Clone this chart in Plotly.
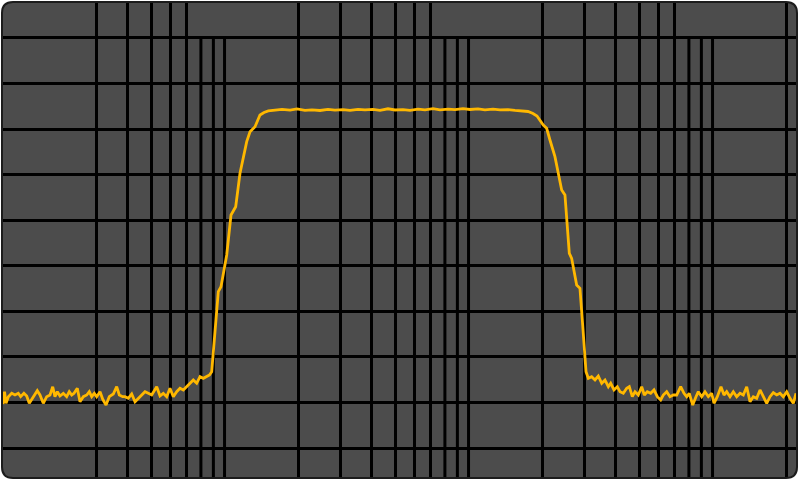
import plotly.graph_objects as go

# Espectro medido (frecuencia en Hz, nivel en dB)
freq_hz = [
    6.18, 6.27, 6.36, 6.50, 6.71, 6.92, 7.14, 7.30, 7.53, 7.73, 7.92, 8.18, 8.54, 8.76, 9.04, 9.33,
    9.63, 9.88, 10.09, 10.32, 10.58, 10.92, 11.27, 11.55, 11.82, 12.08, 12.46, 12.78, 13.19, 13.62,
    13.95, 14.27, 14.63, 14.96, 15.44, 15.84, 16.34, 16.85, 17.50, 18.07, 18.52, 19.12, 19.54, 20.16,
    20.82, 21.48, 22.16, 22.88, 23.60, 24.35, 25.14, 26.36, 27.19, 28.05, 28.97, 29.88, 30.83, 31.83,
    32.84, 33.88, 34.98, 36.09, 37.23, 38.45, 39.66, 40.92, 42.25, 43.38, 44.29,
    45.69, 47.14, 48.35, 49.51, 51.03, 53.14, 55.55, 57.85, 59.12, 61.63, 63.58, 66.65, 69.87, 72.55,
    75.56, 80.48, 85.98, 92.73, 99.06, 106.8, 114.1, 123.1, 132.7, 141.8, 152.9, 163.4, 176.2, 188.2,
    202.9, 216.8, 233.8, 249.8, 269.4, 287.8, 310.3, 331.5, 357.5, 382.0, 411.9, 440.1, 474.6, 507.0,
    546.6, 584.0, 629.8, 672.8, 725.6, 775.1, 828.1, 876.3,
    918.5, 953.9, 1012, 1045, 1078, 1130, 1204, 1242, 1294, 1323, 1387, 1431, 1468, 1515,
    1548, 1598, 1649, 1701, 1757, 1812, 1870, 1912, 1973, 2035, 2088, 2154, 2224, 2279, 2345, 2405,
    2481, 2562, 2626, 2701, 2789, 2877, 2969, 3065, 3141, 3244, 3346, 3453, 3565, 3702, 3819, 3918,
    4015, 4146, 4277, 4371, 4514, 4656, 4804, 4960, 5069, 5230, 5415, 5571, 5715, 5895, 6082, 6280,
    6479, 6684, 6902, 7120, 7345, 7585, 7825, 8073, 8336, 8599, 8871, 9160, 9451, 9749, 10067,
    10385, 10714, 10990,
]
level_db = [
    -80.34, -77.64, -80.18, -78.73, -77.99, -78.36, -77.99, -78.73, -77.99, -78.58, -80.18, -79.09,
    -77.42, -78.36, -80.18, -78.73, -78.36, -76.54, -78.73, -77.64, -78.58, -77.99, -78.73, -77.64,
    -78.36, -77.99, -76.89, -79.83, -78.73, -78.36, -77.64, -78.73, -77.99, -78.73, -77.64, -79.31,
    -80.56, -78.73, -78.14, -76.54, -78.36, -78.73, -78.73, -79.09, -78.14, -79.83, -79.09, -78.14,
    -77.64, -77.99, -78.36, -76.54, -78.58, -77.99, -78.73, -76.89, -78.73, -77.64, -76.89, -77.26,
    -76.54, -75.79, -75.07, -75.79, -74.34, -74.70, -74.34, -73.97, -73.25,
    -65.19, -55.69, -54.59, -51.36, -47.63, -38.85, -37.03, -29.70, -27.50, -22.76, -20.57, -19.47,
    -16.90, -16.35, -16.02, -15.91, -15.69, -15.85, -15.58, -15.87, -15.76, -15.91, -15.67, -15.85,
    -15.72, -15.89, -15.65, -15.80, -15.69, -15.87, -15.54, -15.80, -15.72, -15.87, -15.63, -15.76,
    -15.52, -15.78, -15.61, -15.74, -15.50, -15.69, -15.58, -15.76, -15.63, -15.80, -15.72, -15.89,
    -15.98, -16.13,
    -16.57, -17.12, -19.10, -19.82, -22.39, -26.05, -33.36, -34.46, -47.26, -48.36, -54.22, -54.94,
    -63.00, -73.25,
    -74.70, -74.34, -75.07, -74.19, -75.79, -75.07, -76.54, -75.79, -77.26, -76.54, -77.64, -77.99,
    -76.89, -76.54, -78.73, -77.64, -78.36, -76.54, -78.36, -77.64, -77.99, -77.26, -78.73, -79.46,
    -78.36, -77.64, -78.73, -78.36, -78.36, -76.54, -77.99, -78.73, -77.99, -80.56, -78.73, -77.64,
    -78.73, -77.64, -78.73, -77.99, -80.18, -78.73, -76.54, -78.36, -77.64, -78.73, -77.64, -78.73,
    -77.99, -78.36, -76.54, -79.83, -78.73, -79.09, -77.26, -78.73, -80.18, -78.73, -77.86, -78.36,
    -77.99, -78.73, -77.64, -79.09, -80.18, -77.99,
]

# Rejilla: lineas verticales completas y lineas que empiezan en 0 dB
grid_full_hz = [15, 20, 25, 30, 35, 100, 150, 200, 250, 300, 350,
                1000, 1500, 2000, 2500, 3000, 3500, 10000]
grid_short_hz = [40, 45, 50, 400, 450, 500, 4000, 4500, 5000]
grid_db = [-90, -80, -70, -60, -50, -40, -30, -20, -10, 0]

x_range = [0.7869, 4.0451]   # log10(Hz)
y_range = [-96.58, 7.90]     # dB

fig = go.Figure()

# lineas cortas de la rejilla (debajo de la traza)
gx, gy = [], []
for f in grid_short_hz:
    gx += [f, f, None]
    gy += [0, y_range[0], None]
fig.add_trace(go.Scatter(x=gx, y=gy, mode="lines",
                         line=dict(color="#000000", width=3),
                         hoverinfo="skip"))

fig.add_trace(go.Scatter(x=freq_hz, y=level_db, mode="lines",
                         line=dict(color="#FFB800", width=2.8),
                         hoverinfo="skip"))

# fondo gris con esquinas redondeadas y su borde
w, h = 795, 476
rx, ry = 11 / w, 11 / h
frame = (f"M {rx},0 L {1-rx},0 Q 1,0 1,{ry} L 1,{1-ry} Q 1,1 {1-rx},1 "
         f"L {rx},1 Q 0,1 0,{1-ry} L 0,{ry} Q 0,0 {rx},0 Z")
fig.add_shape(type="path", path=frame, xref="paper", yref="paper",
              fillcolor="#4c4c4c", line=dict(width=0), layer="below")
fig.add_shape(type="path", path=frame, xref="paper", yref="paper",
              line=dict(color="#1c1c1c", width=2), layer="above")

fig.update_layout(
    width=800, height=481,
    margin=dict(l=2, r=3, t=2, b=3),
    paper_bgcolor="white",
    plot_bgcolor="rgba(0,0,0,0)",
    showlegend=False,
    hovermode=False,
    xaxis=dict(type="log", range=x_range, tickvals=grid_full_hz,
               showgrid=True, gridcolor="#000000", gridwidth=3,
               showticklabels=False, ticks="", zeroline=False, showline=False),
    yaxis=dict(range=y_range, tickvals=grid_db,
               showgrid=True, gridcolor="#000000", gridwidth=3,
               showticklabels=False, ticks="", zeroline=False, showline=False),
)

# sin margen del body para que la figura empiece en la esquina
fig.write_html("out.html", config={"displayModeBar": False},
               post_script="document.body.style.margin='0';")
